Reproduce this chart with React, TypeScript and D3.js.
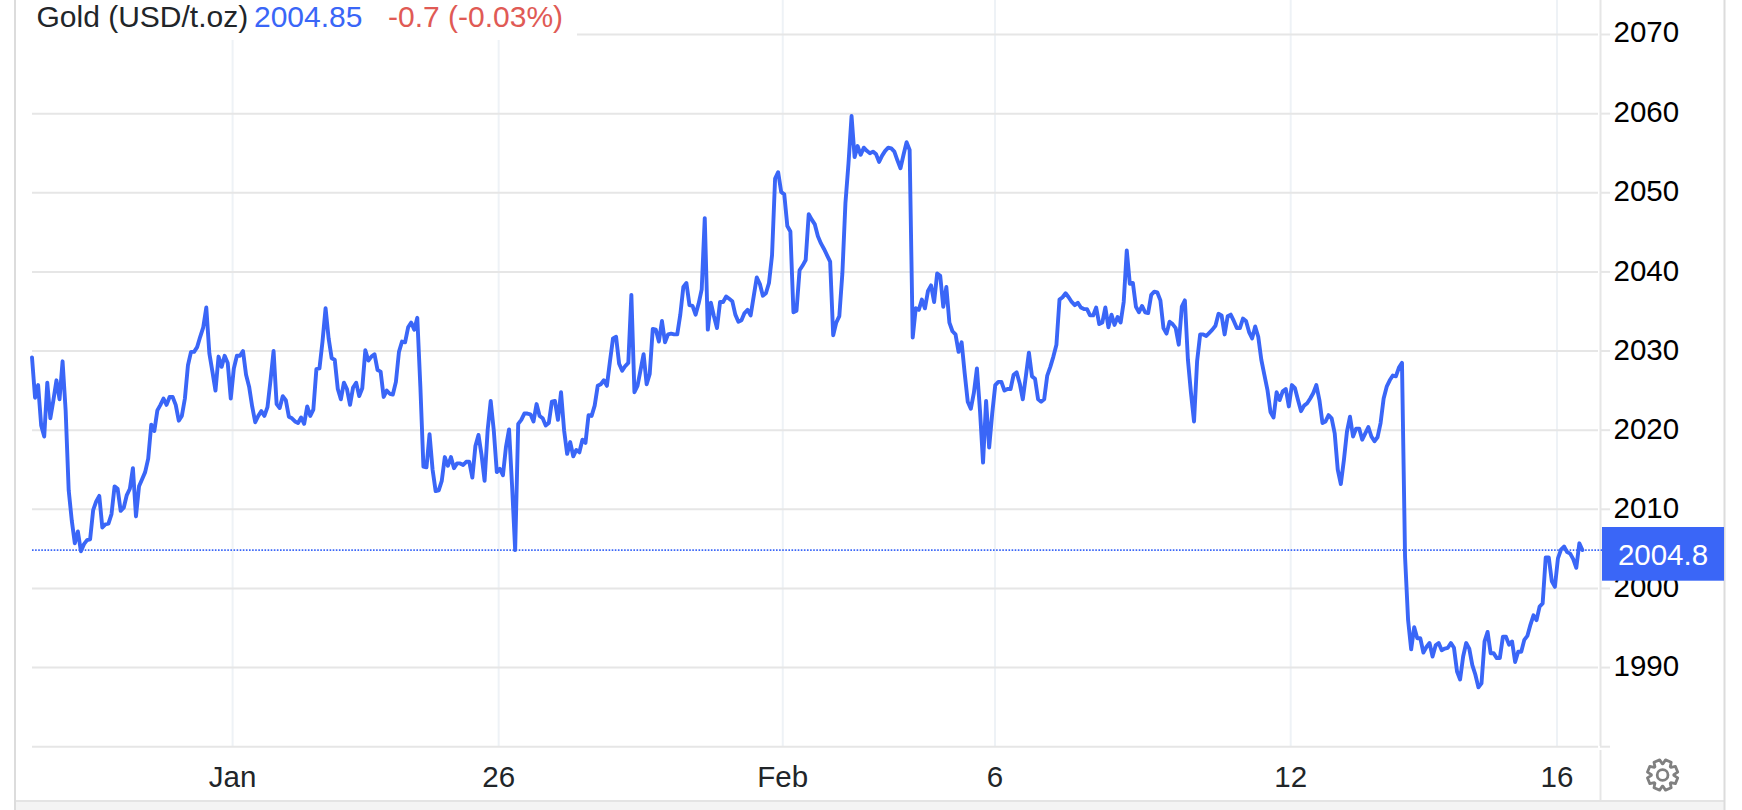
import React from "react";
import * as d3 from "d3";

const pricesDecember = [
  2029.2,2024.1,2025.7,2020.6,2019.2,2026.0,2021.5,2023.8,2026.3,2023.9,
  2028.7,2022.5,2012.4,2008.6,2005.7,2007.2,2004.7,2005.6,2006.1,2006.2,
  2009.9,2011.0,2011.7,2007.7,2008.1,2008.2,2009.4,2012.9,2012.6,2009.8,
  2010.2,2011.8,2012.6,2015.2,2009.1,2012.9,2013.8,2014.7,2016.4,2020.7,
  2019.9,2022.5,2023.2,2024.0,2023.2,2024.2,2024.2,2023.2,2021.2,2021.8,
  2024.0,2028.2,2029.9,2029.9,2030.5,2031.8,2033.0,2035.5,2029.7,2027.4,
  2025.0,2029.3,2028.0,2029.4,2028.5,2024.0,
];
const pricesJanuaryEarly = [
  2027.8,2029.4,2029.4,2030.0,2027.0,2025.5,2023.0,2021.0,2021.8,2022.4,
  2021.8,2022.9,2026.3,2030.0,2023.3,2022.8,2024.3,2023.8,2021.7,2021.5,
  2021.1,2020.9,2021.6,2020.8,2023.0,2021.8,2022.6,2027.7,2027.8,2031.2,
  2035.4,2031.6,2029.1,2028.9,2025.2,2023.9,2026.0,2025.2,2023.2,2025.4,
  2026.0,2024.3,2025.3,2030.1,2028.8,2029.3,2029.6,2027.6,2027.4,2024.2,
  2025.0,2024.6,2024.5,2026.1,2029.9,2031.2,2031.1,2033.0,2033.6,2032.7,
  2034.2,2025.5,2015.4,2015.3,2019.5,2015.0,2012.3,2012.4,2013.6,2016.6,
  2015.5,2016.6,2015.2,2015.8,2015.8,2015.6,2016.0,2016.0,2014.0,2018.0,
  2019.4,2016.9,2013.6,2020.0,2023.7,2020.0,2014.7,2015.1,2014.3,2017.9,
  2020.1,2012.9,
];
const pricesJanuaryLate = [
  2004.85,2020.8,2021.3,2022.1,2022.1,2022.0,2021.1,2023.3,2021.8,2021.5,
  2020.6,2020.9,2023.6,2023.7,2021.3,2024.8,2020.0,2017.0,2018.5,2016.7,
  2017.5,2017.2,2018.8,2018.4,2021.9,2021.8,2023.1,2025.6,2025.8,2026.3,
  2025.6,2028.7,2031.6,2031.8,2028.4,2027.5,2028.1,2028.5,2037.1,2024.8,
  2025.6,2027.6,2029.6,2025.8,2027.1,2032.8,2032.7,2031.2,2033.8,2031.1,
  2032.1,2032.2,2032.1,2032.1,2034.6,2038.1,2038.6,2035.8,2035.7,2034.6,
  2036.0,2037.8,2046.8,2032.7,2036.1,2034.4,2032.9,2036.2,2036.2,2036.9,
  2036.6,2036.3,2034.6,2033.7,2033.9,2034.8,2035.2,2034.5,2036.9,2039.3,
  2038.5,2037.0,2037.3,2038.6,2042.1,2051.8,2052.6,
];
const pricesFebruaryEarly = [
  2050.1,2049.8,2045.8,2045.1,2034.9,2035.1,2040.2,2040.8,2041.5,2047.3,
  2046.6,2046.0,2044.5,2043.6,2042.9,2042.1,2041.3,2032.0,2033.6,2034.4,
  2039.8,2048.7,2053.7,2059.7,2054.5,2055.9,2054.8,2055.7,2055.3,2055.0,
  2055.2,2054.9,2053.9,2054.7,2055.3,2055.7,2055.6,2055.2,2054.1,2053.1,
  2054.8,2056.4,2055.4,2031.7,2035.4,2035.2,2036.5,2035.4,2037.6,2038.3,
  2036.2,2039.8,2039.5,2035.6,2038.1,2033.6,2032.5,2032.1,2029.9,2031.1,
  2027.2,2023.6,2022.7,2024.7,2027.8,2022.5,2015.9,2023.7,2017.8,2022.1,
];
const pricesFebruaryMid = [
  2025.7,2026.1,2026.1,2025.0,2025.2,2025.2,2027.0,2027.3,2025.9,2023.9,
  2026.8,2029.8,2026.8,2026.5,2023.9,2023.6,2023.9,2026.9,2028.0,2029.3,
  2030.8,2036.5,2036.8,2037.3,2036.8,2036.2,2035.8,2036.1,2035.5,2035.3,
  2035.3,2034.5,2034.5,2035.5,2033.4,2033.6,2035.5,2033.0,2034.6,2033.3,
  2034.3,2033.6,2036.2,2042.7,2038.5,2038.6,2035.6,2034.9,2035.7,2034.9,
  2034.8,2037.1,2037.5,2037.4,2036.4,2032.9,2032.2,2033.7,2033.4,2032.9,
  2030.8,2035.6,2036.4,2028.9,2024.7,2021.1,2028.7,2032.1,2032.1,2031.9,
  2032.3,2032.7,2033.2,2034.7,2034.5,2032.1,2034.4,2034.6,2033.8,2032.9,
  2032.9,2034.1,2033.8,2032.4,2031.6,2033.1,2031.8,2028.9,2027.0,2025.1,
  2022.3,2021.6,2024.8,2023.8,2024.9,2025.2,2023.0,2025.7,2025.3,2023.8,
  2022.4,2023.1,2023.4,2024.0,2024.7,2025.7,2023.8,2020.9,2021.1,2021.9,
  2021.5,2019.6,2015.0,2013.2,2016.2,2019.8,2021.7,2019.2,2020.2,2020.2,
  2018.8,2019.6,2020.4,2019.2,2018.6,2019.1,2020.9,2024.0,2025.5,2026.3,
  2026.9,2026.8,2027.9,2028.5,
];
const pricesFebruaryLate = [
  2004.0,1996.0,1992.3,1995.1,1993.7,1993.7,1991.9,1992.6,1993.1,1991.4,
  1992.8,1993.1,1992.2,1992.4,1992.5,1993.1,1992.5,1989.5,1988.5,1991.4,
  1993.1,1992.4,1990.3,1989.1,1987.5,1988.0,1993.3,1994.5,1991.8,1991.8,
  1991.2,1991.2,1993.9,1993.9,1992.9,1993.3,1990.7,1992.0,1992.0,1993.5,
  1994.0,1995.4,1996.6,1996.0,1997.7,1998.1,2003.9,2003.9,2000.9,2000.2,
  2003.8,2004.9,2005.3,2004.6,2004.4,2003.7,2002.6,2005.7,2004.85,
];
const prices = [
  ...pricesDecember, ...pricesJanuaryEarly, ...pricesJanuaryLate,
  ...pricesFebruaryEarly, ...pricesFebruaryMid, ...pricesFebruaryLate,
];

const yTicks = [2070, 2060, 2050, 2040, 2030, 2020, 2010, 2000, 1990, 1980];
const yLabels = [2070, 2060, 2050, 2040, 2030, 2020, 2010, 2000, 1990];
const xTickLabels = ["Jan", "26", "Feb", "6", "12", "16"];
const xTickSamples = [65.6, 152.6, 245.5, 314.9, 411.6, 498.7];
const lastPrice = 2004.85;
const titleName = "Gold (USD/t.oz)";
const titleValue = "2004.85";
const titleChange = "-0.7 (-0.03%)";
const badgeText = "2004.8";

const BLUE = "#3a66f7";
const FONT = "'Liberation Sans', Arial, sans-serif";
const FS = 29.5;

const sampleStep = 3.058;
const x = d3.scaleLinear().domain([0, prices.length - 1]).range([32, 32 + (prices.length - 1) * sampleStep]);
const y = d3.scaleLinear().domain([1980, 2070]).range([746.7, 34.5]);

const line = d3.line<number>().x((_, i) => x(i)).y((d) => y(d)).curve(d3.curveLinear);

const gearRadii: [number, number][] = d3.range(8).flatMap((i) => {
  const a = (i * Math.PI) / 4 + Math.PI / 8;
  return [
    [a - 0.2, 15.4],
    [a + 0.2, 15.4],
    [a + 0.36, 11.2],
    [a + Math.PI / 4 - 0.36, 11.2],
  ] as [number, number][];
});
const gearPath = d3.lineRadial().curve(d3.curveLinearClosed)(gearRadii) as string;

export default function App() {
  return (
    <svg
      width={1742}
      height={810}
      viewBox="0 0 1742 810"
      style={{ position: "absolute", left: 0, top: 0, display: "block", background: "#fff" }}
    >
      <rect x={15} y={801} width={1710} height={9} fill="#f4f4f4" />
      <line x1={15} x2={1725} y1={801} y2={801} stroke="#e4e4e4" strokeWidth={2} />
      <line x1={15} x2={15} y1={0} y2={810} stroke="#dcdcdc" strokeWidth={2} />
      <line x1={1724.5} x2={1724.5} y1={0} y2={810} stroke="#dcdcdc" strokeWidth={2} />

      {xTickSamples.map((s) => (
        <line key={s} x1={x(s)} x2={x(s)} y1={0} y2={746} stroke="#eef2f6" strokeWidth={2} />
      ))}
      {yTicks.map((t) => (
        <g key={t}>
          <line x1={32} x2={1598} y1={y(t)} y2={y(t)} stroke="#e6e6e6" strokeWidth={2} />
          <line x1={1600} x2={1610} y1={y(t)} y2={y(t)} stroke="#e6e6e6" strokeWidth={2} />
        </g>
      ))}
      <rect x={32} y={0} width={545} height={40} fill="#fff" />
      <line x1={1600.5} x2={1600.5} y1={0} y2={746} stroke="#e6e6e6" strokeWidth={2} />
      <line x1={1600.5} x2={1600.5} y1={750} y2={800} stroke="#e6e6e6" strokeWidth={2} />

      <line
        x1={32}
        x2={1602}
        y1={y(lastPrice)}
        y2={y(lastPrice)}
        stroke={BLUE}
        strokeWidth={1.8}
        strokeDasharray="1.6 1.5"
      />
      <path d={line(prices) as string} fill="none" stroke={BLUE} strokeWidth={3.9} strokeLinejoin="round" strokeLinecap="round" />

      <g fontFamily={FONT} fontSize={FS}>
        <g fontSize={30}>
          <text x={36.5} y={26.7} fill="#212529">{titleName}</text>
          <text x={254} y={26.7} fill={BLUE}>{titleValue}</text>
          <text x={388} y={26.7} fill="#e05a55">{titleChange}</text>
        </g>

        {yLabels.map((t) => (
          <text key={t} x={1613.5} y={t === 2070 ? y(t) + 7.2 : y(t) + 8.6} fill="#000">{t}</text>
        ))}
        {xTickLabels.map((l, i) => (
          <text key={l} x={x(xTickSamples[i])} y={786.5} textAnchor="middle" fill="#212529">{l}</text>
        ))}

        <rect x={1602} y={527} width={122} height={53.7} fill={BLUE} />
        <text x={1663} y={565} textAnchor="middle" fill="#fff">{badgeText}</text>
      </g>

      <g transform="translate(1662.6,775)" fill="none" stroke="#808080" strokeWidth={2.8} strokeLinejoin="round">
        <path d={gearPath} />
        <circle r={5.4} />
      </g>
    </svg>
  );
}
